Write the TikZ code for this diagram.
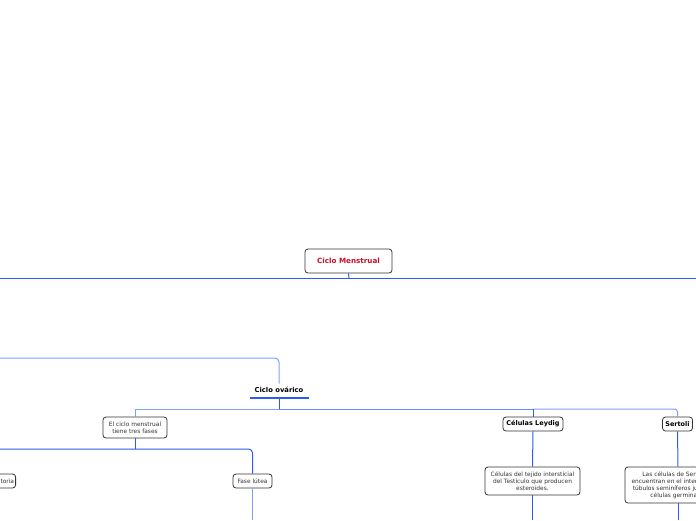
\documentclass[tikz,border=0pt]{standalone}
\usepackage{fontspec}
\setmainfont{DejaVu Sans}
\definecolor{mapblue}{HTML}{2B5BF0}
\definecolor{maplight}{HTML}{7F9FFF}
\definecolor{boxline}{HTML}{333333}
\definecolor{rootred}{HTML}{C8102E}
\tikzset{
  topic/.style   = {shape=rectangle, rounded corners=3pt, draw=boxline,
                    line width=0.8pt, fill=white, align=center,
                    inner sep=1.5pt, text=boxline,
                    font=\fontsize{5.9}{7}\selectfont},
  root/.style    = {topic, font=\bfseries\fontsize{7.2}{8}\selectfont,
                    text=rootred, minimum width=87pt, minimum height=24pt},
  head/.style    = {topic, text=black, font=\bfseries\fontsize{6.5}{7}\selectfont,
                    minimum height=14pt},
  plain/.style   = {text=black, font=\bfseries\fontsize{6.8}{8}\selectfont},
  branch/.style  = {draw=mapblue, line width=1pt},
  twig/.style    = {draw=maplight, line width=1pt}
}
\begin{document}
\begin{tikzpicture}[x=1pt, y=-1pt]
  \useasboundingbox (0,0) rectangle (696,520);
  % nodes
  \node [root] (menstrual) at (348.5,261) {Ciclo Menstrual};
  \node [plain] (ovarico) at (279,390) {Ciclo ovárico};
  \node [topic, minimum width=64pt, minimum height=21pt] (fases) at (135,427.5)
        {El ciclo menstrual\\ tiene tres fases};
  \node [head, minimum width=60pt] (leydig) at (533,424) {Células Leydig};
  \node [head, minimum width=30pt] (sertoli) at (677.5,424) {Sertoli};
  \node [topic, minimum height=14pt, anchor=east] (ovulatoria) at (16,481) {Fase ovulatoria};
  \node [topic, minimum width=39pt, minimum height=14pt] (lutea) at (252.5,481) {Fase lútea};
  \node [topic, minimum width=95pt, minimum height=28pt] (intersticial) at (532.5,481)
        {Células del tejido intersticial\\ del Testículo que producen\\ esteroides.};
  \node [topic, minimum width=106pt, minimum height=36pt] (germinales) at (678,485)
        {Las células de Sertoli se\\ encuentran en el interior de los\\ túbulos seminíferos junto a las\\ células germinales};
  % free ends
  \coordinate (rootbar) at (349,278);
  \coordinate (leftbar) at (0,358);
  \coordinate (ovbar) at (279,409);
  \coordinate (fasebar) at (135,449);
  \coordinate (leftfase) at (0,449);
  % connectors
  \draw [branch] (menstrual.south) -- (rootbar);
  \draw [branch] (0,278) -- (696,278);
  \draw [twig, rounded corners=4pt] (leftbar) -| (ovarico.north);
  \draw [mapblue, line width=2.6pt] (250,398) -- (309,398);
  \draw [branch] (279,399) -- (ovbar);
  \draw [twig] (fases.north) |- (ovbar);
  \draw [maplight!70!mapblue, line width=1pt] (ovbar) -- (533,409);
  \draw [twig, rounded corners=3pt] (533,409) -| (sertoli.north);
  \draw [branch] (533,409) -- (leydig.north);
  \draw [branch] (fases.south) -- (fasebar);
  \draw [branch, rounded corners=4pt] (leftfase) -| (lutea.north);
  \draw [twig] (lutea.south) -- (252.5,520);
  \draw [branch] (leydig.south) -- (intersticial.north);
  \draw [branch] (intersticial.south) -- (532.5,520);
  \draw [branch] (sertoli.south) -- (germinales.north);
  \draw [branch] (germinales.south) -- (678,520);
\end{tikzpicture}
\end{document}
